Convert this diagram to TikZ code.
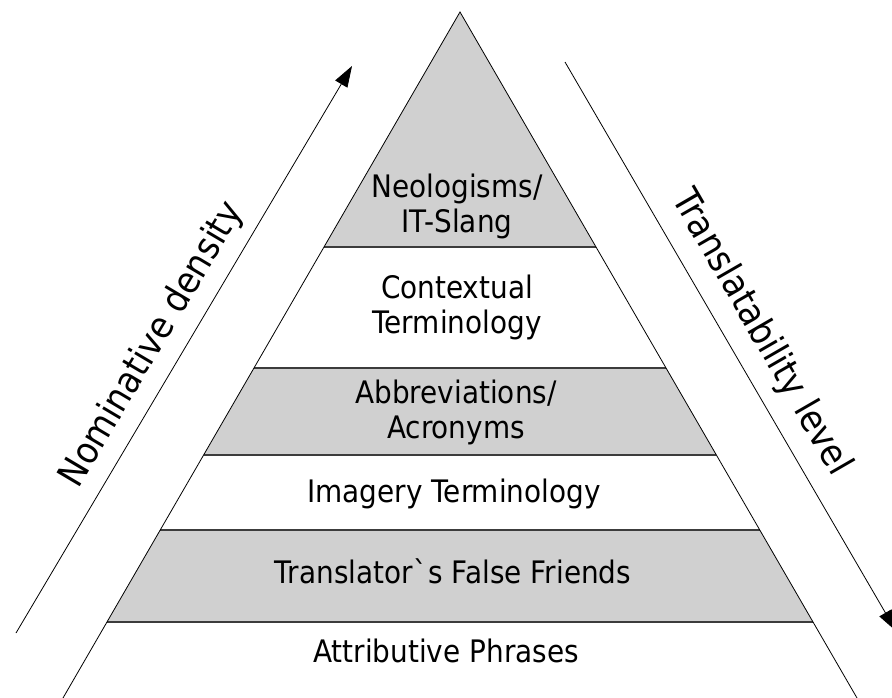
\documentclass[tikz,border=0pt]{standalone}
\usepackage{fontspec}
\setmainfont{DejaVu Sans}[FakeStretch=0.9]
\usetikzlibrary{arrows.meta}
\definecolor{bandgray}{RGB}{208,208,208}
\definecolor{sepgray}{RGB}{60,60,60}
\tikzset{
  band/.style={fill=bandgray, draw=none},
  sepline/.style={draw=sepgray, line width=1.6pt},
  side/.style={draw=black, line width=0.8pt},
  axis/.style={draw=black, line width=0.8pt, -{Triangle[length=21pt,width=14pt]}},
  bandtext/.style={font=\fontsize{31}{35}\selectfont, align=center, inner sep=0pt},
  axistext/.style={font=\fontsize{37}{42}\selectfont, inner sep=0pt, anchor=base}
}
\begin{document}
\begin{tikzpicture}[x=1pt,y=-1pt]
\useasboundingbox (0,0) rectangle (892,698);
\clip (0,0) rectangle (892,698);
\fill[white] (0,0) rectangle (892,698);
% pyramid corners
\coordinate (apex) at (460,12);
\coordinate (bl) at (63,698);
\coordinate (br) at (857,698);
% gray bands
\path[band] (apex) -- (596.0,247) -- (324.0,247) -- cycle;
\path[band] (254.0,368) -- (666.0,368) -- (716.4,455) -- (203.6,455) -- cycle;
\path[band] (160.2,530) -- (759.8,530) -- (813.0,622) -- (107.0,622) -- cycle;
% separators
\draw[sepline] (324.0,247) -- (596.0,247);
\draw[sepline] (254.0,368) -- (666.0,368);
\draw[sepline] (203.6,455) -- (716.4,455);
\draw[sepline] (160.2,530) -- (759.8,530);
\draw[sepline] (107.0,622) -- (813.0,622);
% sides
\draw[side] (bl) -- (apex) -- (br);
% band labels (base = baseline of last line)
\node[bandtext, anchor=base] (neo) at (457,232) {Neologisms/\\IT-Slang};
\node[bandtext, anchor=base] (ctx) at (457,333) {Contextual\\Terminology};
\node[bandtext, anchor=base] (abb) at (456,438) {Abbreviations/\\Acronyms};
\node[bandtext, anchor=base] (img) at (454,502) {Imagery Terminology};
\node[bandtext, anchor=base] (tff) at (453,583) {Translator\textasciigrave s False Friends};
\node[bandtext, anchor=base] (att) at (446,662) {Attributive Phrases};
% axes
\coordinate (ls) at (16,633);
\coordinate (le) at (352,66);
\coordinate (rs) at (565,62);
\coordinate (re) at (896,631);
\draw[axis] (ls) -- (le);
\draw[axis] (rs) -- (re);
\node[axistext, rotate=59.3] (nd) at (161,350) {Nominative density};
\node[axistext, rotate=-60] (tl) at (752,338) {Translatability level};
\end{tikzpicture}
\end{document}
